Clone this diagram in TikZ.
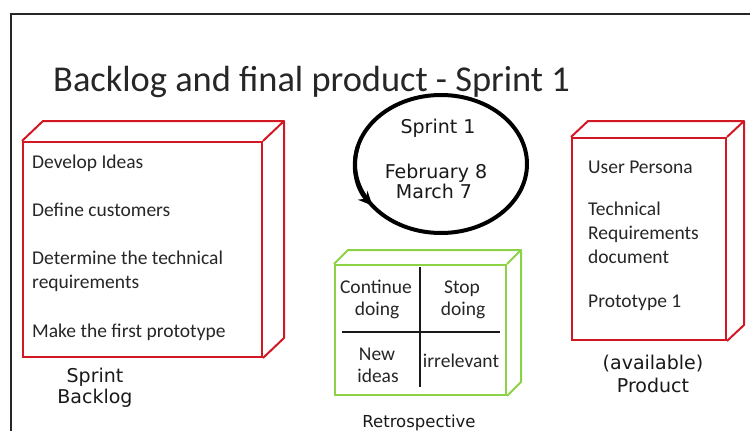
\documentclass[tikz,border=0pt]{standalone}
\usepackage{fontspec}
\setmainfont{Carlito}
\newfontfamily\comic{DejaVu Sans}
\usetikzlibrary{shapes.geometric,arrows.meta}
\definecolor{boxred}{RGB}{210,25,35}
\definecolor{boxgreen}{RGB}{140,210,70}
\begin{document}
\begin{tikzpicture}[x=1pt,y=-1pt,
  redbox/.style={draw=boxred,line width=2pt,rectangle,inner sep=0pt},
  greenbox/.style={draw=boxgreen,line width=2pt,rectangle,inner sep=0pt},
  redline/.style={draw=boxred,line width=2pt,line join=round},
  greenline/.style={draw=boxgreen,line width=2pt,line join=round},
  item/.style={anchor=base west,inner sep=0pt,font=\fontsize{19.5}{23}\selectfont,text=black!85},
  cell/.style={anchor=base,inner sep=0pt,font=\fontsize{19.5}{23}\selectfont,text=black!85},
  hand/.style={anchor=base,inner sep=0pt,font=\comic\fontsize{19}{22}\selectfont,text=black!90},
  gridline/.style={draw=black!90,line width=2pt}]
\useasboundingbox (0,0) rectangle (750,431);
% frame
\coordinate (fbl) at (10.5,440);
\coordinate (ftl) at (10.5,14);
\coordinate (ftr) at (760,14);
\draw[black!85,line width=2pt] (fbl) -- (ftl) -- (ftr);
% title
\node[anchor=base west,inner sep=0pt,font=\fontsize{36.4}{40}\selectfont,text=black!85] (title) at (53,91) {Backlog and final product - Sprint 1};
% left box
\node[redbox,minimum width=239pt,minimum height=215pt] (bl) at (142.5,249.5) {};
\draw[redline] (bl.north west) -- ++(21,-20) -- ([shift={(21,-20)}]bl.north east) -- ([shift={(21,-20)}]bl.south east) -- (bl.south east);
\draw[redline] (bl.north east) -- ++(21,-20);
\node[item] (b1) at (32,168) {Develop Ideas};
\node[item] (b2) at (32,216) {Define customers};
\node[item] (b3) at (32,264) {Determine the technical};
\node[item] (b4) at (32,288) {requirements};
\node[item] (b5) at (32,337) {Make the first prototype};
\node[hand] (sb1) at (95,382) {Sprint};
\node[hand] (sb2) at (95,403) {Backlog};
% sprint ellipse
\node[ellipse,draw=black,line width=4pt,minimum width=172pt,minimum height=138pt,inner sep=0pt] (sprint) at (441,164) {};
\draw[line width=4pt,-{Stealth[length=14pt,width=13pt]}] ([shift={(195:86 and 69)}]sprint.center) arc[start angle=195,end angle=143,x radius=86,y radius=69];
\node[hand] (s1) at (438,133) {Sprint 1};
\node[hand] (s2) at (436,178) {February 8};
\node[hand] (s3) at (434,198) {March 7};
% retrospective box
\node[greenbox,minimum width=171pt,minimum height=130pt] (retro) at (420.5,330) {};
\draw[greenline] (retro.north west) -- ++(14,-14) -- ([shift={(14,-14)}]retro.north east) -- ([shift={(14,-14)}]retro.south east) -- (retro.south east);
\draw[greenline] (retro.north east) -- ++(14,-14);
\coordinate (gv1) at (420,267);
\coordinate (gv2) at (420,387);
\coordinate (gh1) at (342,332);
\coordinate (gh2) at (500,332);
\draw[gridline] (gv1) -- (gv2);
\draw[gridline] (gh1) -- (gh2);
\node[cell] (r1) at (376,293) {Continue};
\node[cell] (r2) at (377,315) {doing};
\node[cell] (r3) at (462,293) {Stop};
\node[cell] (r4) at (463,315) {doing};
\node[cell] (r5) at (377,360) {New};
\node[cell] (r6) at (378,382) {ideas};
\node[cell] (r7) at (461,367) {irrelevant};
\node[hand,font=\comic\fontsize{16.5}{20}\selectfont] (rl) at (419,427) {Retrospective};
% product box
\node[redbox,minimum width=154pt,minimum height=202pt] (pr) at (649,239) {};
\draw[redline] (pr.north west) -- ++(17,-16) -- ([shift={(17,-16)}]pr.north east) -- ([shift={(17,-16)}]pr.south east) -- (pr.south east);
\draw[redline] (pr.north east) -- ++(17,-16);
\node[item] (p1) at (588,173) {User Persona};
\node[item] (p2) at (588,215) {Technical};
\node[item] (p3) at (588,239) {Requirements};
\node[item] (p4) at (588,263) {document};
\node[item] (p5) at (588,307) {Prototype 1};
\node[hand] (pl1) at (653,369) {(available)};
\node[hand] (pl2) at (653,392) {Product};
\end{tikzpicture}
\end{document}
